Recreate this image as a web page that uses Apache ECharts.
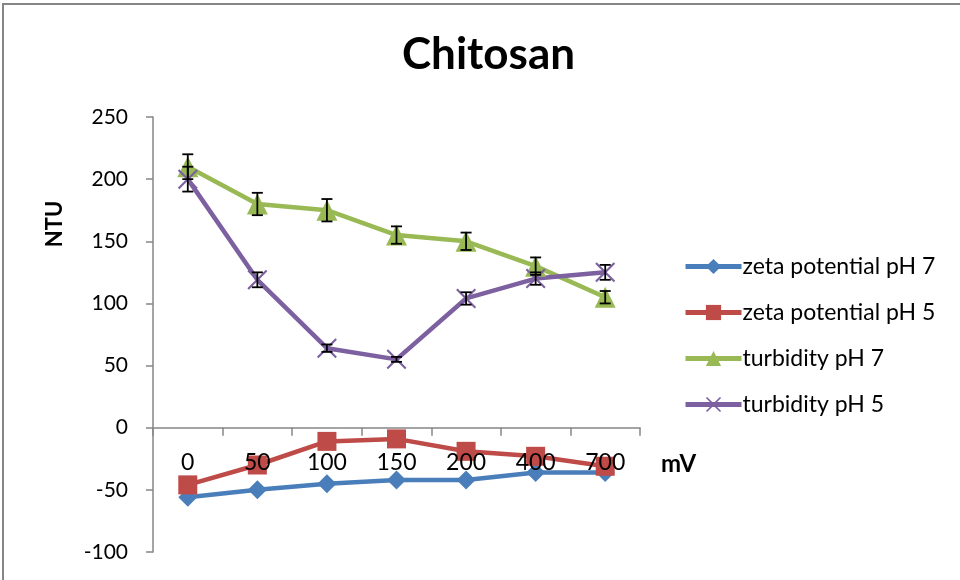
<!DOCTYPE html>
<html><head><meta charset="utf-8">
<script src="https://cdn.jsdelivr.net/npm/echarts@6/dist/echarts.min.js"></script>
<style>html,body{margin:0;padding:0;background:#fff}#c{width:960px;height:580px}</style>
</head><body><div id="c"></div>
<script>
const categories = ['0','50','100','150','200','400','700'];
const zetaPH7 = [-56, -50, -45, -42, -42, -36, -36];
const zetaPH5 = [-46, -30, -11, -9, -19, -23, -31];
const turbPH7 = [210, 180, 175, 155, 150, 130, 105];
const turbPH5 = [200, 119, 64, 55, 104, 120, 125];
const errPH7 = [10, 9, 9, 7, 7, 7, 5];
const errPH5 = [10, 6, 3, 2, 5, 5, 6];
const yTicks = [-100, -50, 0, 50, 100, 150, 200, 250];

const FONT = 'Lato';
const chart = echarts.init(document.getElementById('c'));
const xPath = 'path://M0,1.5 L1.5,0 L10,8.5 L18.5,0 L20,1.5 L11.5,10 L20,18.5 L18.5,20 L10,11.5 L1.5,20 L0,18.5 L8.5,10 Z';

function errSeries(vals, errs) {
  return {
    type: 'custom',
    z: 10,
    silent: true,
    data: vals.map((v, i) => [i, v - errs[i], v + errs[i]]),
    renderItem: function (params, api) {
      const lo = api.coord([api.value(0), api.value(1)]);
      const hi = api.coord([api.value(0), api.value(2)]);
      const w = 5.5;
      const st = { stroke: '#000', lineWidth: 1.8 };
      return {
        type: 'group',
        children: [
          { type: 'line', shape: { x1: lo[0], y1: lo[1], x2: hi[0], y2: hi[1] }, style: st },
          { type: 'line', shape: { x1: lo[0] - w, y1: lo[1], x2: lo[0] + w, y2: lo[1] }, style: st },
          { type: 'line', shape: { x1: hi[0] - w, y1: hi[1], x2: hi[0] + w, y2: hi[1] }, style: st }
        ]
      };
    }
  };
}

chart.setOption({
  animation: false,
  textStyle: { fontFamily: FONT },
  title: {
    text: 'Chitosan', left: 402, top: 33, padding: 0,
    textStyle: { fontFamily: FONT, fontSize: 44, fontWeight: 'bold', color: '#000' }
  },
  grid: { left: 153, right: 320, top: 117, bottom: 28, outerBoundsMode: 'none', containLabel: false },
  legend: {
    orient: 'vertical', left: 678, top: 250, itemGap: 23,
    itemWidth: 56, itemHeight: 19,
    lineStyle: { width: 5 },
    textStyle: { fontFamily: FONT, fontSize: 23, color: '#000', padding: [0, 0, 0, -4] },
    data: ['zeta potential pH 7', 'zeta potential pH 5', 'turbidity pH 7', 'turbidity pH 5']
  },
  xAxis: {
    type: 'category', data: categories, boundaryGap: true, z: 20,
    axisLine: { onZero: true, lineStyle: { color: '#868686', width: 1.5 } },
    axisTick: { show: true, length: 8, lineStyle: { color: '#868686', width: 1.5 } },
    axisLabel: { fontSize: 23, color: '#000', margin: -101, fontFamily: FONT },
    splitLine: { show: false }
  },
  yAxis: {
    type: 'value', min: -100, max: 250, interval: 50,
    axisLine: { show: true, lineStyle: { color: '#868686', width: 1.5 } },
    axisTick: { show: true, length: 7, lineStyle: { color: '#868686', width: 1.5 } },
    axisLabel: { fontSize: 21, color: '#000', margin: 25, fontFamily: FONT,
      formatter: v => yTicks.includes(v) ? String(v) : '' },
    splitLine: { show: false }
  },
  graphic: [
    { type: 'polyline', silent: true, shape: { points: [[3, 600], [3, 4], [970, 4]] },
      style: { stroke: '#868686', lineWidth: 2, fill: null } },
    { type: 'text', left: 661, top: 452, silent: true,
      style: { text: 'mV', font: 'bold 24px ' + FONT, fill: '#000' } },
    { type: 'text', x: 55, y: 224, rotation: Math.PI / 2, silent: true,
      style: { text: 'NTU', font: 'bold 22px ' + FONT, fill: '#000', align: 'center', verticalAlign: 'middle' } }
  ],
  series: [
    { name: 'zeta potential pH 7', type: 'line', data: zetaPH7,
      symbol: 'diamond', symbolSize: 19,
      lineStyle: { color: '#4A7EBB', width: 4.5 }, itemStyle: { color: '#4A7EBB' } },
    { name: 'zeta potential pH 5', type: 'line', data: zetaPH5,
      symbol: 'rect', symbolSize: 19,
      lineStyle: { color: '#BE4B48', width: 4.5 }, itemStyle: { color: '#BE4B48' } },
    { name: 'turbidity pH 7', type: 'line', data: turbPH7,
      symbol: 'triangle', symbolSize: 21,
      lineStyle: { color: '#98B954', width: 4.5 }, itemStyle: { color: '#98B954' } },
    { name: 'turbidity pH 5', type: 'line', data: turbPH5,
      symbol: xPath, symbolSize: 20,
      lineStyle: { color: '#7D60A0', width: 4.5 }, itemStyle: { color: '#7D60A0' } },
    errSeries(turbPH7, errPH7),
    errSeries(turbPH5, errPH5)
  ]
});
</script>
</body></html>
